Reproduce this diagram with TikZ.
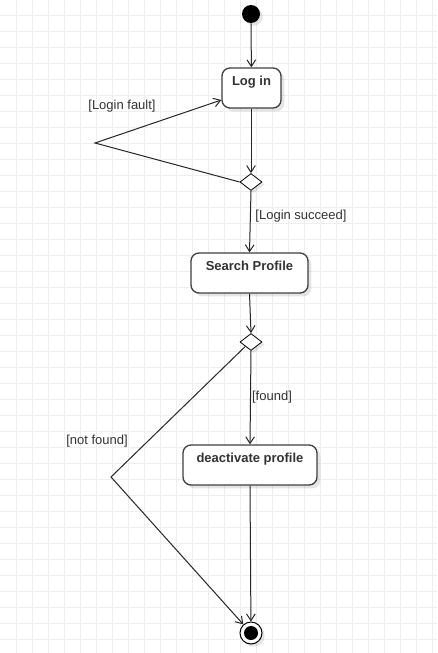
\documentclass[tikz,border=0pt]{standalone}
\usepackage{fontspec}
\setmainfont{Liberation Sans}
\usetikzlibrary{arrows.meta,shapes.geometric,shadows,calc}
\definecolor{gridc}{HTML}{EEEEEE}
\definecolor{txt}{HTML}{333333}
\begin{document}
\begin{tikzpicture}[x=0.75pt,y=-0.75pt,
  gridline/.style={draw=gridc,line width=0.6pt},
  act/.style={draw=black!75,line width=1pt,rounded corners=6pt,fill=white,
    font=\bfseries\fontsize{9.75}{12}\selectfont,text=txt,
    minimum height=30pt,inner sep=0pt,text height=7pt,text depth=10.5pt,
    drop shadow={shadow xshift=2.5pt,shadow yshift=-2.5pt,opacity=0.10,fill=black}},
  decision/.style={diamond,draw=black,line width=0.6pt,fill=white,inner sep=0pt,
    minimum width=16.5pt,minimum height=12.75pt,
    drop shadow={shadow xshift=2pt,shadow yshift=-2pt,opacity=0.10,fill=black}},
  arr/.style={-{Straight Barb[length=5pt,width=6.5pt]},line width=0.75pt,draw=black!85},
  guard/.style={font=\fontsize{9.75}{12}\selectfont,text=txt,inner sep=0pt}
]
\useasboundingbox (0,0) rectangle (437,653);
\fill[white] (0,0) rectangle (437,653);
\foreach \i in {1,...,27} \draw[gridline] (16*\i,0) -- (16*\i,653);
\foreach \j in {1,...,41} \draw[gridline] (0,16*\j-1) -- (437,16*\j-1);

\node[circle,fill=black,minimum size=13.5pt,inner sep=0pt,
  drop shadow={shadow xshift=2pt,shadow yshift=-2pt,opacity=0.10,fill=black}] (start) at (251,14) {};
\node[act,minimum width=44.25pt] (login) at (251.5,88) {Log in};
\node[decision] (d1) at (251,182) {};
\node[act,minimum width=87.75pt] (search) at (249.5,273) {Search Profile};
\node[decision] (d2) at (251,342) {};
\node[act,minimum width=100.5pt] (deact) at (250,465) {deactivate profile};
\node[circle,draw=black,line width=0.75pt,fill=white,minimum size=16.5pt,inner sep=0pt,
  path picture={\fill[black] (path picture bounding box.center) circle (5.25pt);},
  drop shadow={shadow xshift=2pt,shadow yshift=-2pt,opacity=0.10,fill=black}] (end) at (251,633) {};

\coordinate (lf) at (95,143);
\coordinate (nf) at (111,477);

\draw[arr] (start) -- (login);
\draw[arr] (login.south -| d1) -- (d1);
\draw[arr] (d1.west) -- (lf) -- ($(login.west)+(0,12)$);
\draw[arr] (d1.south) -- (search.north);
\draw[arr] (search.south) -- (d2.north);
\draw[arr] (d2.south) -- (deact.north);
\draw[arr] (d2.south west) -- (nf) -- (end);
\draw[arr] (deact.south) -- (end);

\node[guard] (gfault) at (122,106) {[Login fault]};
\node[guard] (gsucc) at (301,216) {[Login succeed]};
\node[guard] (gfound) at (272,397) {[found]};
\node[guard] (gnot) at (97,441) {[not found]};
\end{tikzpicture}
\end{document}
